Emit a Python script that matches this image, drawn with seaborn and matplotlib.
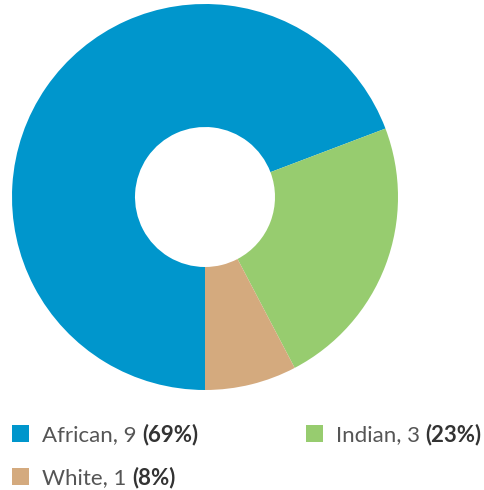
import matplotlib
matplotlib.use("Agg")
import matplotlib.pyplot as plt
import seaborn as sns
from matplotlib.patches import Rectangle

categories = ["African", "Indian", "White"]
counts = [9, 3, 1]
percents = [69, 23, 8]
colors = ["#0096CC", "#97CC6F", "#D4AA7E"]

sns.set_theme(style="white")
plt.rcParams['font.family'] = ['Lato', 'DejaVu Sans']

W, H = 484, 490
fig = plt.figure(figsize=(W / 100, H / 100), dpi=100)

# pie axes in pixel terms
cx, cy, R = 205, 197, 193
ax = fig.add_axes([(cx - R) / W, (H - (cy + R)) / H, 2 * R / W, 2 * R / H])
ax.pie(counts, colors=colors, startangle=-90, counterclock=False,
       wedgeprops=dict(width=1 - 70 / 193, edgecolor="none"), radius=1)
ax.set_xlim(-1, 1)
ax.set_ylim(-1, 1)
ax.set_aspect("equal")
ax.axis("off")

# legend
positions = [(12, 433), (306, 433), (12, 476)]
fs = 16
for (px, py), cat, n, p, c in zip(positions, categories, counts, percents, colors):
    fig.patches.append(Rectangle((px / W, (H - py - 8.5) / H), 16.5 / W, 16.5 / H,
                                 transform=fig.transFigure, facecolor=c, edgecolor="none"))
    t = fig.text((px + 30) / W, (H - py) / H, f"{cat}, {n} ", fontsize=fs,
                 color="#555555", va="center_baseline", ha="left")
    ax.annotate(f"({p}%)", xy=(1, 0.5), xycoords=t, va="center", ha="left",
                fontsize=fs, fontweight="bold", color="#333333",
                annotation_clip=False)

fig.savefig("out.png", dpi=100)
